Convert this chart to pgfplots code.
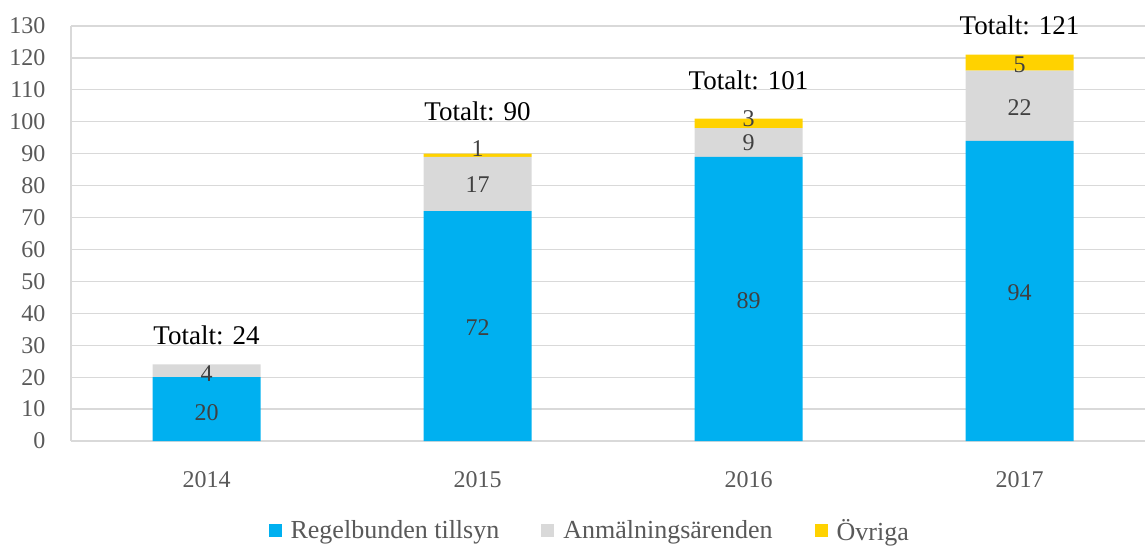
\documentclass[border=0pt]{standalone}
\usepackage{fontspec}
\setmainfont{Liberation Serif}
\usepackage{pgfplots}
\usepackage{pgfplotstable}
\pgfplotsset{compat=1.18}
\definecolor{cblue}{HTML}{00B0F0}
\definecolor{cgray}{HTML}{D9D9D9}
\definecolor{cyel}{HTML}{FFD200}
\definecolor{gridc}{HTML}{D9D9D9}
\definecolor{tickc}{HTML}{595959}
\definecolor{labc}{HTML}{404040}
\newcommand{\cfont}{\fontsize{24}{28}\selectfont}
% segment values
\pgfplotstableread{
x y
0 20
1 72
2 89
3 94
}\regel
\pgfplotstableread{
x y
0 4
1 17
2 9
3 22
}\anm
\pgfplotstableread{
x y
0 0
1 1
2 3
3 5
}\ovr
% data label positions (y) and texts
\pgfplotstableread{
x y lab
0 8.9 20
0 21 4
1 35.5 72
1 80.3 17
1 91.5 1
2 44 89
2 93.4 9
2 101 3
3 46.5 94
3 104.5 22
3 118 5
}\labels
\pgfplotstableread{
x y lab
0 33 {Totalt: 24}
1 103.4 {Totalt: 90}
2 113 {Totalt: 101}
3 130.3 {Totalt: 121}
}\tot
\begin{document}
\begin{tikzpicture}
\begin{axis}[
  name=ax,
  x=271pt, y=3.1923pt,
  xmin=-0.5, xmax=3.463, ymin=0, ymax=130,
  ybar stacked, bar width=108pt,
  axis x line*=bottom, axis y line*=left,
  axis line style={draw=gridc, line width=1.3pt, -},
  ymajorgrids, grid style={draw=gridc, line width=1.3pt},
  major tick length=0pt,
  xtick={0,1,2,3}, xticklabels={2014,2015,2016,2017},
  ytick={0,10,...,130},
  tick label style={font=\cfont, text=tickc},
  yticklabel style={xshift=-22pt},
  xticklabel style={yshift=-27pt},
  /pgf/number format/assume math mode=true,
  legend columns=3,
  legend style={at={(0.483,-0.215)}, anchor=center, draw=none, font=\fontsize{26}{30}\selectfont, text=tickc,
    /tikz/every even column/.append style={column sep=40pt}},
  legend image code/.code={\fill[#1] (0pt,-6.5pt) rectangle (13pt,6.5pt); \path (20pt,0pt);},
]
\addplot[fill=cblue, draw=none] table[x=x, y=y] {\regel};
\addlegendentry{Regelbunden tillsyn}
\addplot[fill=cgray, draw=none] table[x=x, y=y] {\anm};
\addlegendentry{Anmälningsärenden}
\addplot[fill=cyel, draw=none] table[x=x, y=y] {\ovr};
\addlegendentry{Övriga}
\end{axis}
\begin{axis}[
  x=271pt, y=3.1923pt,
  xmin=-0.5, xmax=3.463, ymin=0, ymax=130,
  hide axis, clip=false,
  point meta=explicit symbolic,
  nodes near coords={\pgfplotspointmeta},
]
\addplot[only marks, mark=none,
  every node near coord/.style={font=\cfont, text=labc, anchor=center}]
  table[x=x, y=y, meta=lab] {\labels};
\addplot[only marks, mark=none,
  every node near coord/.style={font=\fontsize{27}{31}\selectfont, text=black, anchor=center}]
  table[x=x, y=y, meta=lab] {\tot};
\end{axis}
\pgfresetboundingbox
\path ([shift={(-71pt,-104pt)}]ax.south west) rectangle ([shift={(0pt,26pt)}]ax.north east);
\end{tikzpicture}
\end{document}
